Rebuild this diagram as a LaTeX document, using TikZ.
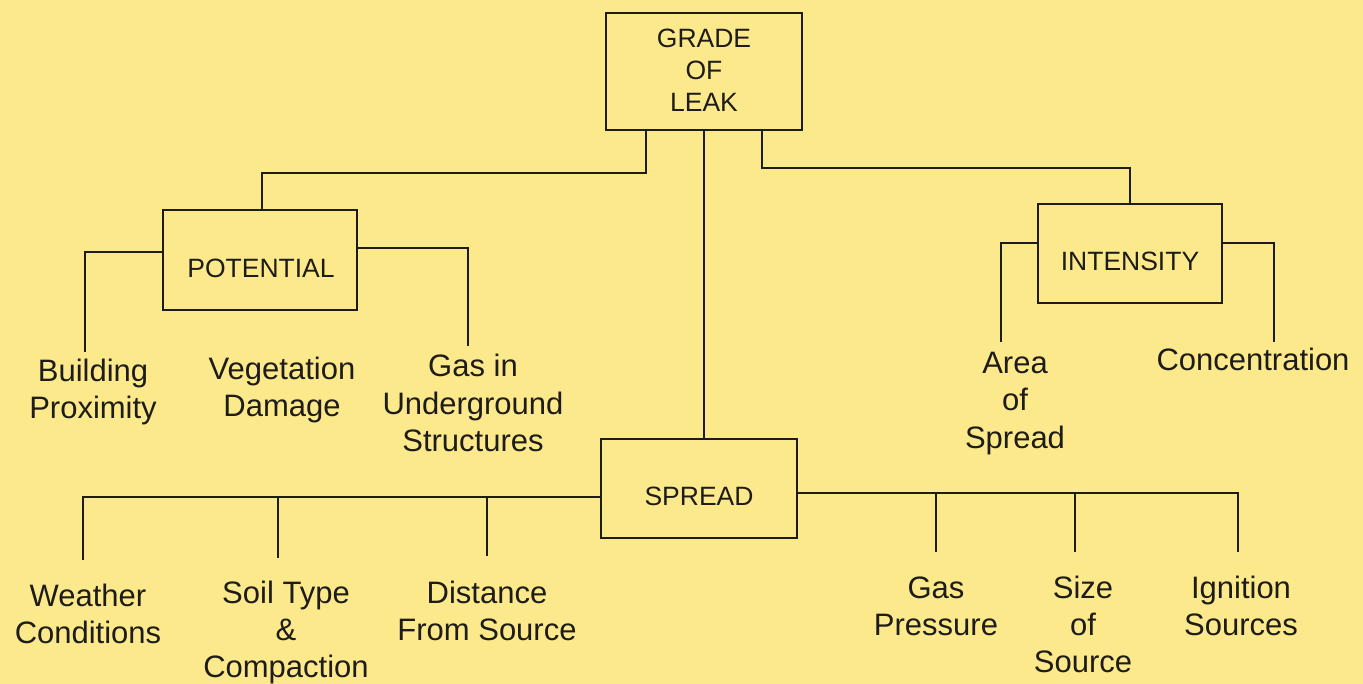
\documentclass[tikz,border=0pt]{standalone}
\usepackage{fontspec}
\setmainfont{Liberation Sans}
\definecolor{bg}{HTML}{FCE98C}
\definecolor{ink}{HTML}{1E1C18}
\begin{document}
\begin{tikzpicture}[x=1pt,y=-1pt,
  box/.style={draw=ink,line width=2pt,rectangle,inner sep=0pt},
  lbl/.style={text=ink,font=\fontsize{26.5}{32}\selectfont,align=center,anchor=base,inner sep=0pt},
  leaf/.style={text=ink,font=\fontsize{31}{37}\selectfont,align=center,anchor=base,inner sep=0pt},
  conn/.style={draw=ink,line width=2pt}]
\fill[bg] (0,0) rectangle (1363,684);
\useasboundingbox (0,0) rectangle (1363,684);
% boxes
\node[box,minimum width=196pt,minimum height=117pt] (grade) at (704,71.5) {};
\node[box,minimum width=194pt,minimum height=100pt] (potential) at (260,260) {};
\node[box,minimum width=184pt,minimum height=99pt] (intensity) at (1130,253.5) {};
\node[box,minimum width=196pt,minimum height=99pt] (spread) at (699,488.5) {};
% box labels (anchor at baseline of last line)
\node[lbl] (tgrade) at (704,112) {GRADE\\OF\\LEAK};
\node[lbl] (tpot) at (261,278) {POTENTIAL};
\node[lbl] (tint) at (1130,271) {INTENSITY};
\node[lbl] (tspr) at (699,505) {SPREAD};
% leaves
\node[leaf] (bp) at (93,419) {Building\\Proximity};
\node[leaf] (vd) at (282,417) {Vegetation\\Damage};
\node[leaf] (gu) at (473,451) {Gas in\\Underground\\Structures};
\node[leaf] (as) at (1015,448) {Area\\of\\Spread};
\node[leaf] (co) at (1253,371) {Concentration};
\node[leaf] (wc) at (88,643) {Weather\\Conditions};
\node[leaf] (st) at (286,677) {Soil Type\\\&\\Compaction};
\node[leaf] (ds) at (487,640) {Distance\\From Source};
\node[leaf] (gp) at (936,635) {Gas\\Pressure};
\node[leaf] (ss) at (1083,672) {Size\\of\\Source};
\node[leaf] (is) at (1241,635) {Ignition\\Sources};
% leaf line ends
\coordinate (ebp) at (85,352);
\coordinate (egu) at (468,346);
\coordinate (eas) at (1001,342);
\coordinate (eco) at (1274,342);
\coordinate (ewc) at (83,560);
\coordinate (est) at (278,558);
\coordinate (eds) at (487,556);
\coordinate (egp) at (936,552);
\coordinate (ess) at (1075,552);
\coordinate (eis) at (1238,552);
\coordinate (jst) at (278,497);
\coordinate (jds) at (487,497);
\coordinate (jgp) at (936,493);
\coordinate (jss) at (1075,493);
% top connectors
\draw[conn] ([xshift=-58pt]grade.south) -- ++(0,42) -| ([xshift=2pt]potential.north);
\draw[conn] (grade.south) -- (grade.south |- spread.north);
\draw[conn] ([xshift=58pt]grade.south) -- ++(0,37) -| (intensity.north);
% potential
\draw[conn] ([yshift=8pt]potential.west) -| (ebp);
\draw[conn] ([yshift=12pt]potential.east) -| (egu);
% intensity
\draw[conn] ([yshift=10pt]intensity.west) -| (eas);
\draw[conn] ([yshift=10pt]intensity.east) -| (eco);
% spread
\draw[conn] ([yshift=-8pt]spread.west) -| (ewc);
\draw[conn] (jst) -- (est);
\draw[conn] (jds) -- (eds);
\draw[conn] ([yshift=-4.5pt]spread.east) -| (eis);
\draw[conn] (jgp) -- (egp);
\draw[conn] (jss) -- (ess);
\end{tikzpicture}
\end{document}
